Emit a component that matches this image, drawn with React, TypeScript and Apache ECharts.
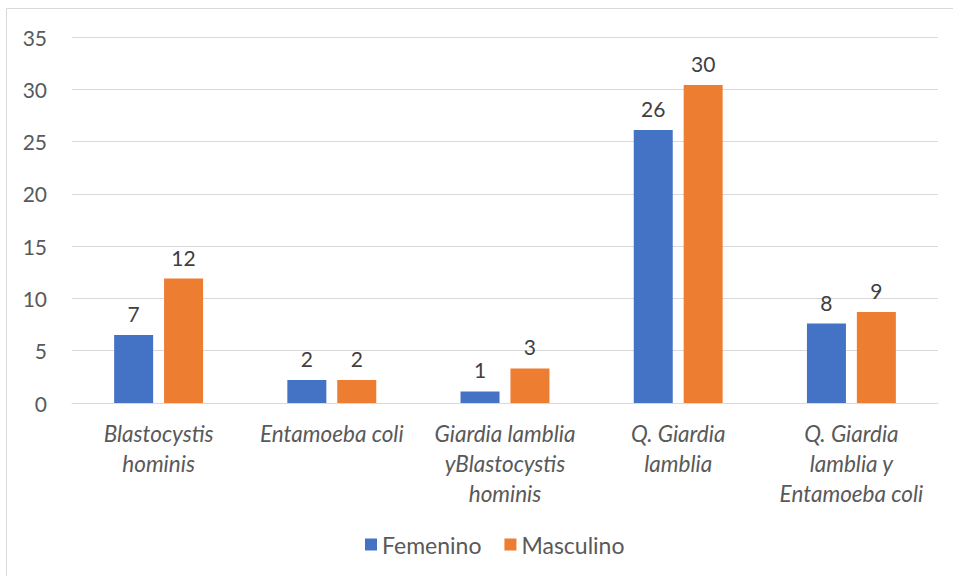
import React, { useEffect, useRef } from "react";
import * as echarts from "echarts";

const categories = [
  "Blastocystis\nhominis",
  "Entamoeba coli",
  "Giardia lamblia\nyBlastocystis\nhominis",
  "Q. Giardia\nlamblia",
  "Q. Giardia\nlamblia y\nEntamoeba coli",
];
const femenino = [6.5, 2.2, 1.1, 26.1, 7.6];
const masculino = [11.9, 2.2, 3.3, 30.4, 8.7];

const FONT = "Lato, 'Noto Sans', sans-serif";
const TEXT = "#595959";

export default function App() {
  const ref = useRef<HTMLDivElement>(null);

  useEffect(() => {
    if (!ref.current) return;
    const chart = echarts.init(ref.current, undefined, { renderer: "svg" });
    const label = {
      show: true,
      position: "top" as const,
      distance: 11,
      color: "#404040",
      fontSize: 21,
      fontFamily: FONT,
      formatter: (p: any) => String(Math.round(p.value)),
    };
    chart.setOption({
      animation: false,
      backgroundColor: "#ffffff",
      textStyle: { fontFamily: FONT },
      graphic: [
        {
          type: "rect",
          shape: { x: 6.5, y: 8.5, width: 960, height: 600 },
          style: { fill: "none", stroke: "#d9d9d9", lineWidth: 1 },
          silent: true,
        },
      ],
      grid: { left: 72, right: 15, top: 37, bottom: 173, containLabel: false },
      legend: {
        bottom: 15,
        left: 360,
        itemWidth: 12,
        itemHeight: 12,
        itemGap: 23,
        icon: "rect",
        textStyle: { color: TEXT, fontSize: 23, fontFamily: FONT },
        data: ["Femenino", "Masculino"],
      },
      xAxis: {
        type: "category",
        data: categories,
        axisLine: { lineStyle: { color: "#d9d9d9", width: 1 } },
        axisTick: { show: false },
        axisLabel: {
          interval: 0,
          color: TEXT,
          fontSize: 22.5,
          fontStyle: "italic",
          fontFamily: FONT,
          lineHeight: 30,
          margin: 15,
        },
      },
      yAxis: {
        type: "value",
        min: 0,
        max: 35,
        interval: 5,
        axisLine: { show: false },
        axisTick: { show: false },
        splitLine: { lineStyle: { color: "#d9d9d9", width: 1 } },
        axisLabel: { color: TEXT, fontSize: 21, fontFamily: FONT, margin: 25 },
      },
      series: [
        {
          name: "Femenino",
          type: "bar",
          data: femenino,
          barWidth: 39,
          barGap: "28%",
          itemStyle: { color: "#4472c4" },
          label,
        },
        {
          name: "Masculino",
          type: "bar",
          data: masculino,
          barWidth: 39,
          itemStyle: { color: "#ed7d31" },
          label,
        },
      ],
    });
    return () => chart.dispose();
  }, []);

  return (
    <div
      ref={ref}
      style={{ position: "fixed", left: 0, top: 0, width: 953, height: 576 }}
    />
  );
}
